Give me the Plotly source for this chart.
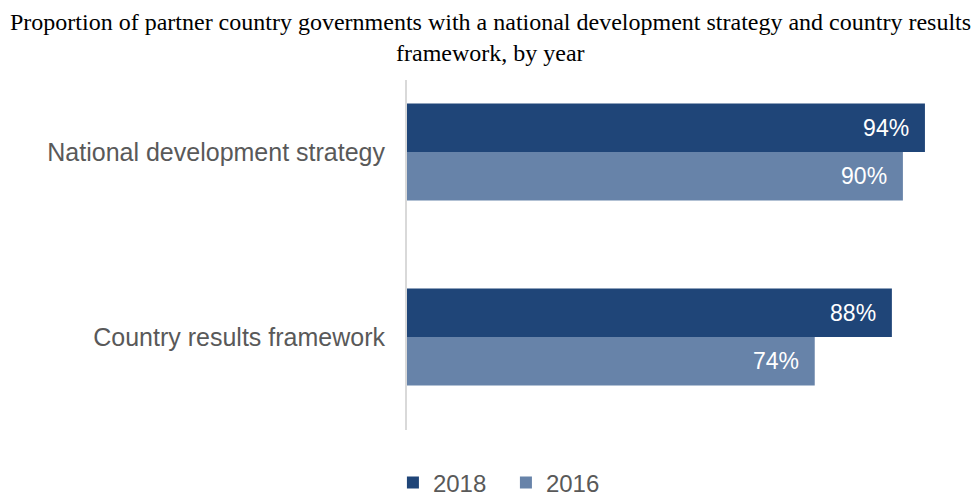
import plotly.graph_objects as go

categories = ["National development strategy", "Country results framework"]
series_names = ["2018", "2016"]
values_2018 = [94, 88]
values_2016 = [90, 74]
title_lines = [
    "Proportion of partner country governments with a national development strategy and country results",
    "framework, by year",
]

colors = {"2018": "#1F4578", "2016": "#6783A9"}

fig = go.Figure()
for name, vals in zip(series_names, [values_2018, values_2016]):
    fig.add_trace(go.Bar(
        name=name,
        y=categories,
        x=vals,
        orientation="h",
        marker=dict(color=colors[name], line=dict(width=0)),
        texttemplate="%{x}%\u00a0\u00a0",
        textposition="inside",
        insidetextanchor="end",
        textfont=dict(family="Liberation Sans, Arial", size=23, color="white"),
        cliponaxis=False,
    ))

title_font = dict(family="Liberation Serif, Times New Roman", size=24, color="black")

fig.update_layout(
    width=975, height=497,
    margin=dict(l=407, r=17, t=80, b=67),
    paper_bgcolor="white", plot_bgcolor="white",
    barmode="group", bargap=0.476, bargroupgap=0,
    showlegend=True,
    legend=dict(
        orientation="h", xref="container", yref="container",
        x=0.403, y=(497 - 483) / 497, xanchor="left", yanchor="middle",
        font=dict(family="Liberation Sans, Arial", size=24, color="#595959"),
        traceorder="normal", entrywidth=68, bgcolor="rgba(0,0,0,0)",
    ),
    annotations=[
        dict(text=title_lines[0], xref="paper", yref="paper",
             x=(490 - 407) / 551, y=1 + (80 - 22) / 350, xanchor="center", yanchor="middle",
             showarrow=False, font=title_font),
        dict(text=title_lines[1], xref="paper", yref="paper",
             x=(490 - 407) / 551, y=1 + (80 - 53) / 350, xanchor="center", yanchor="middle",
             showarrow=False, font=title_font),
    ],
)

fig.update_xaxes(range=[0, 100], showticklabels=False, showgrid=False, zeroline=False,
                 showline=False, ticks="")
fig.update_yaxes(range=[1.503, -0.389], showgrid=False, zeroline=False,
                 showline=True, linecolor="#D9D9D9", linewidth=2,
                 ticks="", ticklabelstandoff=15,
                 tickfont=dict(family="Liberation Sans, Arial", size=25, color="#595959"))

fig.write_html("out.html", config={"displayModeBar": False},
               post_script="document.body.style.margin='0';")
